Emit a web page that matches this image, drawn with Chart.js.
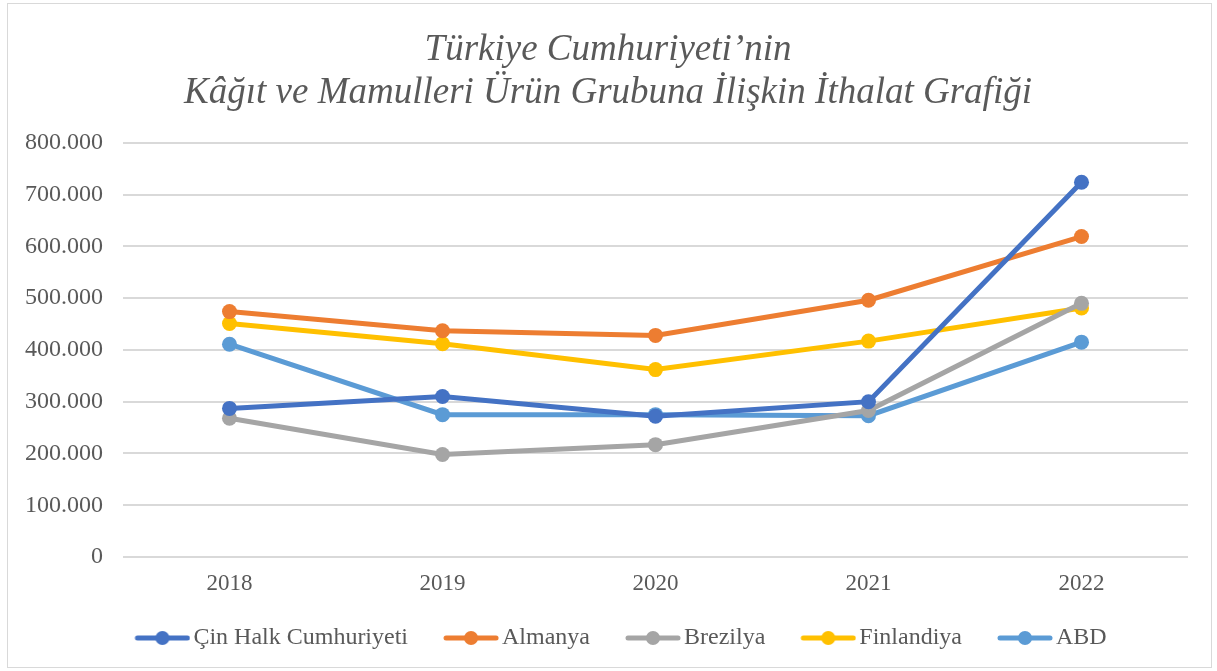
<!DOCTYPE html>
<html>
<head>
<meta charset="utf-8">
<script src="https://cdn.jsdelivr.net/npm/chart.js@4.4.1/dist/chart.umd.min.js"></script>
<style>
  body { margin: 0; background: #fff; }
  #box { position: absolute; left: 7px; top: 3px; width: 1205px; height: 665px; border: 1px solid #d9d9d9; box-sizing: border-box; }
  canvas { display: block; }
</style>
</head>
<body>
<div id="box"><canvas id="c"></canvas></div>
<script>
// data
const years = ['2018', '2019', '2020', '2021', '2022']
const cin = [287000, 310000, 272000, 300000, 724000]
const almanya = [474000, 437000, 428000, 496000, 619000]
const brezilya = [268000, 198000, 217000, 283000, 490000]
const finlandiya = [451000, 412000, 362000, 417000, 481000]
const abd = [411000, 275000, 275000, 273000, 415000]
const seriesNames = ['Çin Halk Cumhuriyeti', 'Almanya', 'Brezilya', 'Finlandiya', 'ABD']
const colors = ['#4472c4', '#ed7d31', '#a5a5a5', '#ffc000', '#5b9bd5']
const yTicks = [0, 100000, 200000, 300000, 400000, 500000, 600000, 700000, 800000]

const box = document.getElementById('box')
const canvas = document.getElementById('c')
canvas.width = box.clientWidth
canvas.height = box.clientHeight

// line+dot marker for the legend; blank strip on the left so the mark sits close to its text
function legendMark(color) {
    let m = document.createElement('canvas')
    m.width = 90
    m.height = 16
    let g = m.getContext('2d')
    g.strokeStyle = color
    g.lineWidth = 5
    g.lineCap = 'round'
    g.beginPath()
    g.moveTo(37, 8)
    g.lineTo(87, 8)
    g.stroke()
    g.fillStyle = color
    g.beginPath()
    g.arc(62, 8, 7, 0, Math.PI * 2)
    g.fill()
    return m
}

// push title + legend a bit to the right (they are centred on the box, not the plot)
const nudge = {
    id: 'nudge',
    afterLayout(chart) {
        for (const b of [chart.legend, chart.titleBlock]) {
            if (b) { b.left += 6; b.right += 6 }
        }
    }
}

const allValues = [cin, almanya, brezilya, finlandiya, abd]
const datasets = allValues.map((vals, i) => ({
    label: seriesNames[i],
    data: vals,
    borderColor: colors[i],
    backgroundColor: colors[i],
    borderWidth: 5,
    pointRadius: 7.5,
    pointHoverRadius: 7.5,
    pointBorderWidth: 0,
    tension: 0
}))

const font = 'Liberation Serif, Times New Roman, serif'

new Chart(canvas, {
    type: 'line',
    data: { labels: years, datasets: datasets },
    plugins: [nudge],
    options: {
        responsive: false,
        animation: false,
        layout: { padding: { left: 8, right: 23, top: 0, bottom: 7 } },
        plugins: {
            title: {
                display: true,
                text: ['Türkiye Cumhuriyeti’nin', 'Kâğıt ve Mamulleri Ürün Grubuna İlişkin İthalat Grafiği'],
                color: '#595959',
                font: { family: font, size: 37, style: 'italic', weight: 'normal', lineHeight: 1.16 },
                padding: { top: 25, bottom: 28 }
            },
            legend: {
                position: 'bottom',
                labels: {
                    color: '#595959',
                    font: { family: font, size: 24 },
                    usePointStyle: true,
                    pointStyleWidth: 72,
                    boxHeight: 16,
                    padding: 10,
                    generateLabels: function(chart) {
                        return chart.data.datasets.map((ds, i) => ({
                            text: ds.label,
                            fillStyle: colors[i],
                            strokeStyle: colors[i],
                            lineWidth: 0,
                            pointStyle: legendMark(colors[i]),
                            fontColor: '#595959',
                            datasetIndex: i
                        }))
                    }
                }
            },
            tooltip: { enabled: false }
        },
        scales: {
            x: {
                offset: true,
                grid: { display: false, drawTicks: false },
                border: { display: false },
                ticks: { color: '#595959', font: { family: font, size: 23 }, padding: 13 },
                afterFit: s => { s.height = 59 }
            },
            y: {
                min: 0,
                max: 800000,
                afterBuildTicks: s => { s.ticks = yTicks.map(v => ({ value: v })) },
                ticks: {
                    color: '#595959',
                    font: { family: font, size: 24 },
                    padding: 20,
                    callback: v => v === 0 ? '0' : v.toLocaleString('de-DE')
                },
                grid: { color: '#d9d9d9', lineWidth: 2, drawTicks: false },
                border: { display: false },
                afterFit: s => { s.width = 107 }
            }
        }
    }
})
</script>
</body>
</html>
